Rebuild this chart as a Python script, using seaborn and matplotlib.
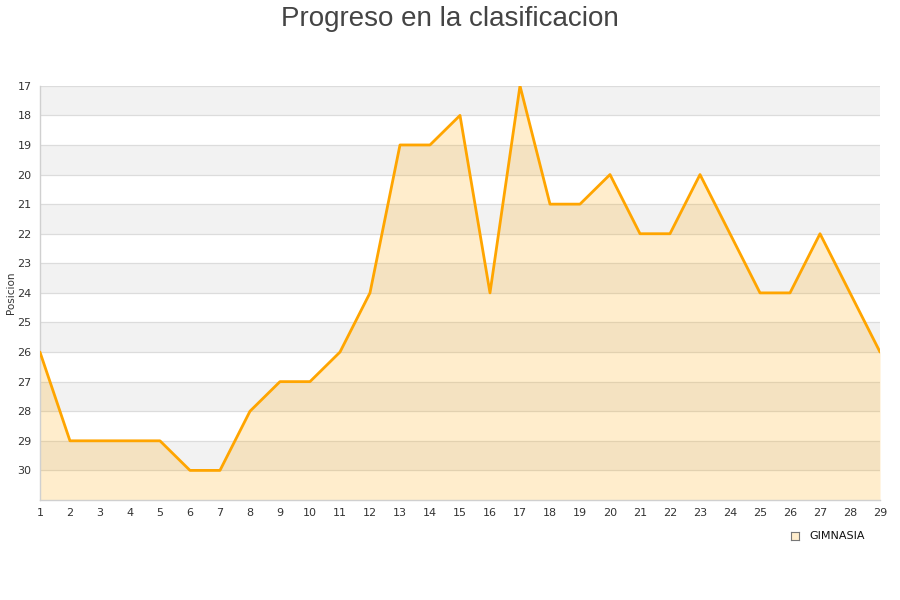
import seaborn as sns
import matplotlib.pyplot as plt
import pandas as pd

# Datos
jornadas = list(range(1, 30))
posiciones = [26, 29, 29, 29, 29, 30, 30, 28, 27, 27, 26, 24, 19, 19, 18, 24,
              17, 21, 21, 20, 22, 22, 20, 22, 24, 24, 22, 24, 26]
equipo = 'GIMNASIA'
titulo = 'Progreso en la clasificacion'

df = pd.DataFrame({'jornada': jornadas, 'posicion': posiciones})

sns.set_style('white')
plt.rcParams['font.family'] = ['DejaVu Sans']

fig = plt.figure(figsize=(9, 6), dpi=100)
ax = fig.add_axes([0.0444, 0.1667, 0.9334, 0.6903])

# Bandas alternas
for k in range(17, 31, 2):
    ax.axhspan(k, k + 1, color='#f2f2f2', zorder=0, lw=0)
for k in range(17, 31):
    ax.axhline(k, color='#dcdcdc', lw=0.9, zorder=1)

ax.fill_between(df['jornada'], df['posicion'], 31, color='#ffa500', alpha=0.2,
                lw=0, zorder=2)
sns.lineplot(data=df, x='jornada', y='posicion', color='#ffa500', lw=2,
             ax=ax, zorder=3)

ax.set_xlim(1, 29)
ax.set_ylim(31, 17)
ax.set_xticks(jornadas)
ax.set_yticks(range(17, 31))
ax.tick_params(axis='both', labelsize=8, colors='#333333', length=0, pad=6)
ax.set_xlabel('')
ax.set_ylabel('Posicion', fontsize=7.5, color='#333333', labelpad=1)

for s in ['top', 'right']:
    ax.spines[s].set_visible(False)
for s in ['left', 'bottom']:
    ax.spines[s].set_color('#d0d0d0')
    ax.spines[s].set_linewidth(1)

fig.suptitle(titulo, fontsize=20, color='#444444', y=0.99,
             family=['Liberation Sans', 'DejaVu Sans'])

# Leyenda
fig.text(0.899, 0.1067, equipo, fontsize=8, color='#111111', va='center')
ax_leg = fig.add_axes([0.888 - 0.0089, 0.1, 0.0089, 0.0133])
ax_leg.set_facecolor('#ffedcc')
ax_leg.set_xticks([])
ax_leg.set_yticks([])
for s in ax_leg.spines.values():
    s.set_color('#777777')
    s.set_linewidth(0.8)

plt.savefig('out.png', dpi=100)
